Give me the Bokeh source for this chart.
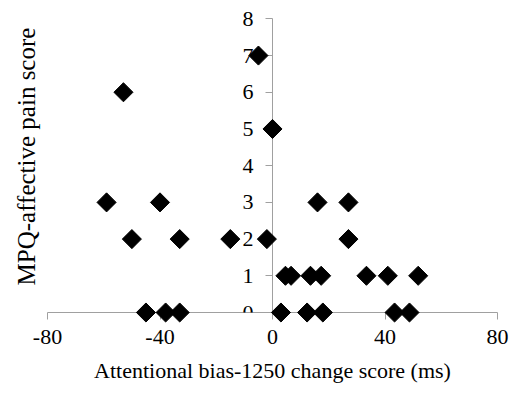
import math
from bokeh.plotting import figure
from bokeh.models import Range1d, FixedTicker, Title
from bokeh.embed import file_html
from bokeh.resources import INLINE

# data
bias_change = [-5, -53, 0, -59, -40, -50, -33, -15, -2, -45, -38, -33, 3,
               16, 27, 27, 4.6, 6.6, 13.5, 17.3, 33.4, 41, 51.8, 12.3, 17.9, 43.4, 48.7]
pain_score = [7, 6, 5, 3, 3, 2, 2, 2, 2, 0, 0, 0, 0,
              3, 3, 2, 1, 1, 1, 1, 1, 1, 1, 0, 0, 0, 0]
x_ticks = [-80, -40, 0, 40, 80]
x_tick_labels = ["-80", "-40", "0", "40", "80"]
y_ticks = [0, 1, 2, 3, 4, 5, 6, 7, 8]

FONT = "Liberation Serif"
AXIS_COLOR = "#a0a0a0"

p = figure(width=520, height=399, output_backend="svg", toolbar_location=None,
           x_range=Range1d(-80, 80), y_range=Range1d(0, 8.5),
           min_border_left=47, min_border_right=23, min_border_top=0,
           min_border_bottom=87)
p.outline_line_color = None
p.xgrid.visible = False
p.ygrid.visible = False
p.background_fill_color = None

r = p.scatter(bias_change, pain_score, marker="square", angle=math.pi / 4,
              size=13.5, color="black")
r.level = "overlay"

for ax in (p.xaxis[0], p.yaxis[0]):
    ax.axis_line_color = AXIS_COLOR
    ax.major_tick_line_color = AXIS_COLOR
    ax.major_tick_out = 7
    ax.major_tick_in = 0
    ax.minor_tick_line_color = None
    ax.major_label_text_font = FONT
    ax.major_label_text_font_size = "22px"
    ax.major_label_text_color = "black"

p.yaxis[0].fixed_location = 0
p.xaxis[0].ticker = FixedTicker(ticks=x_ticks)
p.xaxis[0].major_label_overrides = dict(zip(x_ticks, x_tick_labels))
p.yaxis[0].ticker = FixedTicker(ticks=y_ticks)
p.xaxis[0].bounds = (-80, 80)
p.yaxis[0].bounds = (0, 8)
p.xaxis[0].major_label_standoff = 10
p.yaxis[0].major_label_standoff = 12

p.xaxis[0].axis_label = "Attentional bias-1250 change score (ms)"
p.xaxis[0].axis_label_text_font = FONT
p.xaxis[0].axis_label_text_font_size = "22px"
p.xaxis[0].axis_label_text_font_style = "normal"
p.xaxis[0].axis_label_text_color = "black"
p.xaxis[0].axis_label_standoff = 11

p.add_layout(Title(text="MPQ-affective pain score", align="center",
                   text_font=FONT, text_font_size="25px", standoff=16,
                   text_font_style="normal", text_color="black"), "left")

open("out.html", "w").write(file_html(p, INLINE))
